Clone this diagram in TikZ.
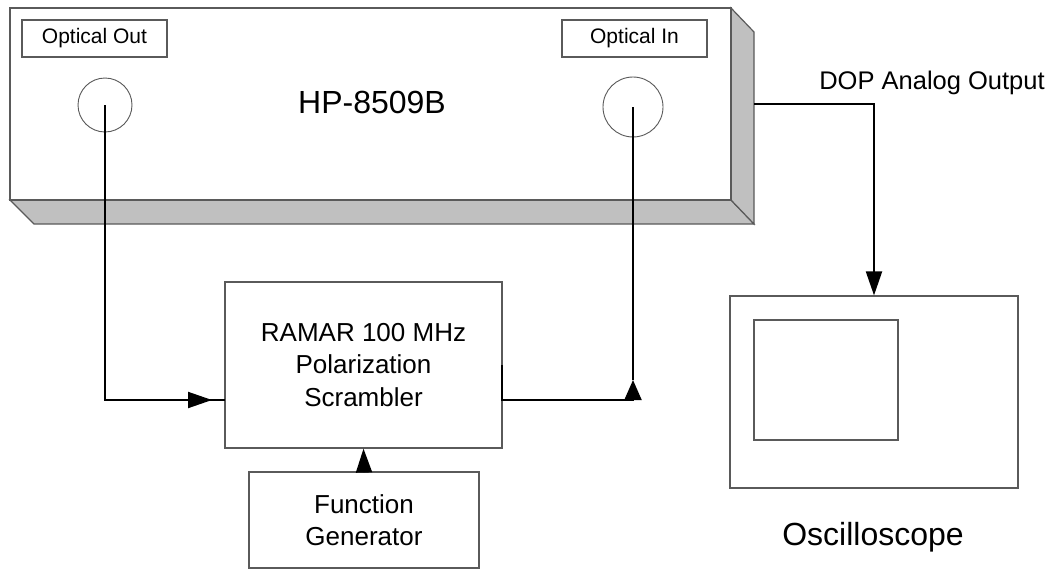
\documentclass[tikz,border=0pt]{standalone}
\usepackage{fontspec}
\setmainfont{Liberation Sans}
\usetikzlibrary{arrows.meta}
\definecolor{edgegray}{RGB}{90,90,90}
\definecolor{facegray}{RGB}{192,192,192}
\tikzset{
  outline/.style={draw=edgegray, line width=1.2pt},
  plainbox/.style={outline, fill=white, inner sep=0pt, rectangle, align=center},
  port/.style={draw=edgegray, line width=0.9pt, circle, inner sep=0pt},
  conn/.style={draw=black, line width=2pt},
  tipR/.style={-{Triangle[length=24pt,width=16pt]}},
  tipU/.style={-{Triangle[length=20pt,width=17pt]}},
  lbl/.style={inner sep=0pt, align=center},
}
\begin{document}
\begin{tikzpicture}[x=1pt,y=-1pt]
\useasboundingbox (0,0) rectangle (1060,573);
% 3D instrument body
\filldraw[outline, fill=facegray] (10,200) -- (34,224) -- (754,224) -- (731,200) -- cycle;
\filldraw[outline, fill=facegray] (731,8) -- (754,32) -- (754,224) -- (731,200) -- cycle;
\node[plainbox, minimum width=721pt, minimum height=192pt] (hp) at (370.5,104) {};
\node[plainbox, minimum width=145pt, minimum height=37pt, font=\fontsize{21}{25}\selectfont] (lout) at (94.5,38.5) {Optical Out};
\node[plainbox, minimum width=145pt, minimum height=37pt, font=\fontsize{21}{25}\selectfont] (lin) at (634.5,38.5) {Optical In};
\node[port, minimum size=54pt] (oout) at (105,105) {};
\node[port, minimum size=60pt] (oin) at (633,107) {};
\node[lbl, font=\fontsize{32}{38}\selectfont] (hpname) at (372,102) {HP-8509B};
% scrambler and function generator
\node[plainbox, minimum width=277pt, minimum height=166pt, font=\fontsize{26}{32.5}\selectfont] (scr) at (363.5,365) {RAMAR 100 MHz\\Polarization\\Scrambler};
\node[plainbox, minimum width=230pt, minimum height=96pt, font=\fontsize{26}{32}\selectfont] (fg) at (364,520) {Function\\Generator};
% oscilloscope
\node[plainbox, minimum width=288pt, minimum height=192pt] (osc) at (874,392) {};
\node[plainbox, minimum width=144pt, minimum height=120pt] (screen) at (826,380) {};
\node[lbl, font=\fontsize{32}{38}\selectfont] (osclbl) at (873,537) {Oscilloscope};
\node[lbl, font=\fontsize{25.5}{30}\selectfont] (doplbl) at (932,83) {DOP Analog Output};
% connector points
\coordinate (inL) at (225,400);
\coordinate (tipL0) at (188,400);
\coordinate (tipL1) at (212,400);
\coordinate (outR) at (502,365);
\coordinate (outR2) at (502,400);
\coordinate (cornerR) at (633,400);
\coordinate (tipRr) at (633,380);
\coordinate (dopOut) at (754,104);
% connectors
\draw[conn] (oout.center) |- (inL);
\draw[conn, tipR] (tipL0) -- (tipL1);
\draw[conn] (outR) -- (outR2) -- (cornerR);
\draw[conn, tipU] (cornerR) -- (tipRr);
\draw[conn] (oin.center) -- (tipRr);
\draw[conn, tipR] (fg.north) -- (scr.south);
\draw[conn, tipR] (dopOut) -| (osc.north);
\end{tikzpicture}
\end{document}
